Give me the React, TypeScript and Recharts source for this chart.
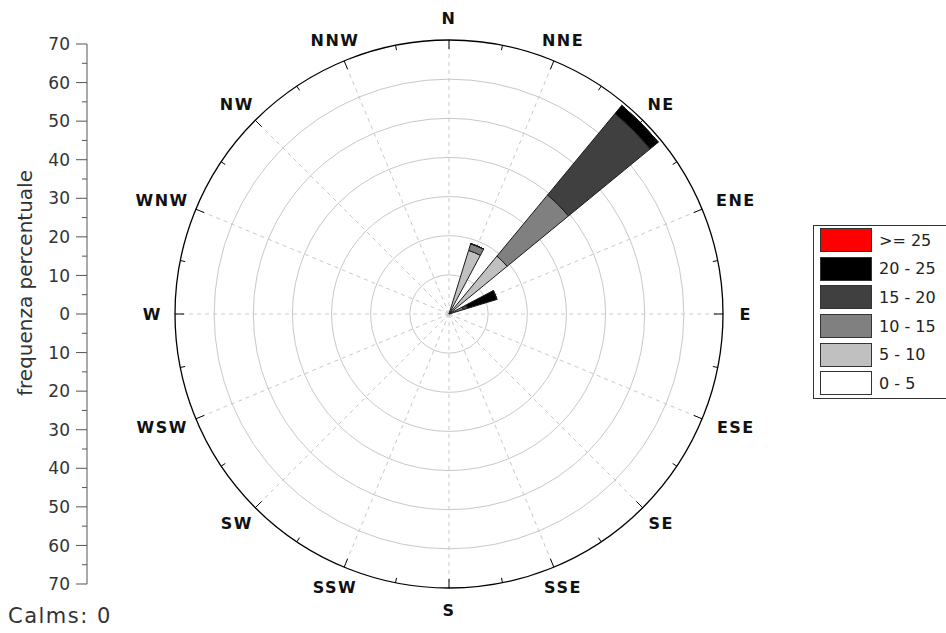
import React from 'react';
import {
  RadialBarChart,
  RadialBar,
  PolarGrid,
  PolarAngleAxis,
  PolarRadiusAxis,
  Legend,
  ComposedChart,
  XAxis,
  YAxis,
} from 'recharts';

const directions = ['N', 'NNE', 'NE', 'ENE', 'E', 'ESE', 'SE', 'SSE', 'S', 'SSW', 'SW', 'WSW', 'W', 'WNW', 'NW', 'NNW'];

// frequenza percentuale per classe di velocità, impilate per direzione
const speed0to5 = [0, 0.5, 1.0, 0.3, 0, 0, 0, 0, 0, 0, 0, 0, 0, 0, 0, 0];
const speed5to10 = [0, 16.5, 18.2, 1.5, 0, 0, 0, 0, 0, 0, 0, 0, 0, 0, 0, 0];
const speed10to15 = [0, 1.8, 20.3, 2.0, 0, 0, 0, 0, 0, 0, 0, 0, 0, 0, 0, 0];
const speed15to20 = [0, 0, 27.0, 1.2, 0, 0, 0, 0, 0, 0, 0, 0, 0, 0, 0, 0];
const speed20to25 = [0, 0, 2.7, 7.8, 0, 0, 0, 0, 0, 0, 0, 0, 0, 0, 0, 0];
const speedOver25 = [0, 0, 0, 0, 0, 0, 0, 0, 0, 0, 0, 0, 0, 0, 0, 0];

const binKeys = ['b0', 'b1', 'b2', 'b3', 'b4', 'b5'];
const binLabels = ['0 - 5', '5 - 10', '10 - 15', '15 - 20', '20 - 25', '>= 25'];
const binColors = ['#ffffff', '#c0c0c0', '#808080', '#404040', '#000000', '#ff0000'];

const ringTicks = [10, 20, 30, 40, 50, 60];
const freqTicks = [70, 65, 60, 55, 50, 45, 40, 35, 30, 25, 20, 15, 10, 5, 0, -5, -10, -15, -20, -25, -30, -35, -40, -45, -50, -55, -60, -65, -70];
const calms = 0;

const data = directions.map((dir, i) => ({
  dir,
  b0: speed0to5[i],
  b1: speed5to10[i],
  b2: speed10to15[i],
  b3: speed15to20[i],
  b4: speed20to25[i],
  b5: speedOver25[i],
}));

const freqData = freqTicks.map((freq) => ({ freq }));

const CX = 449;
const CY = 314;
const R = 274;
const LABEL_R = 289;
const STEP = 360 / directions.length;
// recharts centres each stacked bar half a band after its tick, so the
// chart starts half a band early and the labels are moved back onto the bars
const START = 90 - STEP / 2;
const spokeAngles = directions.map((_, i) => 90 - i * STEP);
const FONT = '"DejaVu Sans", sans-serif';

const polar = (r: number, deg: number) => {
  const a = (deg * Math.PI) / 180;
  return { x: CX + r * Math.cos(a), y: CY - r * Math.sin(a) };
};

const DirTick = (props: any) => {
  const { payload } = props;
  const deg = payload.coordinate + STEP / 2;
  const o = polar(R, deg);
  const i = polar(R - 9, deg);
  const mo = polar(R, deg - STEP / 2);
  const mi = polar(R - 5, deg - STEP / 2);
  // push the label out by half its box so it sits clear of the ring
  const p = polar(LABEL_R, deg);
  const a = (deg * Math.PI) / 180;
  const halfW = (String(payload.value).length * 15.5) / 2;
  const tx = p.x + halfW * Math.cos(a) * Math.abs(Math.cos(a));
  const ty = p.y - 7 * Math.sin(a);
  return (
    <g>
      <line x1={o.x} y1={o.y} x2={i.x} y2={i.y} stroke="#000" strokeWidth={1} />
      <line x1={mo.x} y1={mo.y} x2={mi.x} y2={mi.y} stroke="#000" strokeWidth={1} />
      <text
        x={tx}
        y={ty}
        dy="0.36em"
        textAnchor="middle"
        fontFamily={FONT}
        fontWeight={700}
        fontSize={16}
        letterSpacing={1.5}
        fill="#111"
      >
        {payload.value}
      </text>
    </g>
  );
};

const WindLegend = () => (
  <div
    style={{
      border: '1px solid #333',
      borderRight: 'none',
      padding: '0 0 0 6px',
      background: '#fff',
      fontFamily: FONT,
      fontSize: 16,
      color: '#222',
    }}
  >
    {binLabels
      .map((label, i) => ({ label, color: binColors[i] }))
      .reverse()
      .map((item) => (
        <div key={item.label} style={{ display: 'flex', alignItems: 'center', height: 28.6 }}>
          <div
            style={{
              width: 52,
              height: 24,
              background: item.color,
              border: '1px solid #333',
              boxSizing: 'border-box',
              marginRight: 7,
            }}
          />
          <span>{item.label}</span>
        </div>
      ))}
  </div>
);

const FreqTick = (props: any) => {
  const { x, y, payload } = props;
  const major = payload.value % 10 === 0;
  return (
    <g>
      <line x1={x - (major ? 11 : 5)} y1={y} x2={x} y2={y} stroke="#555" strokeWidth={1} />
      {major && (
        <text x={x - 17} y={y} dy="0.36em" textAnchor="end" fontFamily={FONT} fontSize={17} fill="#333">
          {Math.abs(payload.value)}
        </text>
      )}
    </g>
  );
};

const FreqTitle = (props: any) => {
  const { viewBox } = props;
  const tx = 25;
  const ty = viewBox.y + viewBox.height / 2 - 31;
  return (
    <text
      x={tx}
      y={ty}
      transform={`rotate(-90, ${tx}, ${ty})`}
      textAnchor="middle"
      dy="0.36em"
      fontFamily={FONT}
      fontSize={20}
      fill="#333"
    >
      frequenza percentuale
    </text>
  );
};

export default function App() {
  return (
    <div
      style={{
        position: 'absolute',
        left: 0,
        top: 0,
        width: 946,
        height: 633,
        overflow: 'hidden',
        background: '#fff',
        fontFamily: FONT,
      }}
    >
      <div style={{ position: 'absolute', left: 0, top: 0 }}>
        <RadialBarChart
          width={946}
          height={633}
          data={data}
          cx={CX}
          cy={CY}
          innerRadius={0}
          outerRadius={R}
          startAngle={START}
          endAngle={START - 360}
          layout="centric"
          barCategoryGap="25%"
          margin={{ top: 0, right: 0, bottom: 0, left: 0 }}
        >
          <PolarGrid gridType="circle" radialLines={false} stroke="#c8c8c8" strokeWidth={1} />
          <PolarGrid
            gridType="circle"
            polarRadius={[]}
            polarAngles={spokeAngles}
            stroke="#c8c8c8"
            strokeDasharray="4 4"
          />
          <PolarRadiusAxis type="number" domain={[0, 70]} ticks={ringTicks} axisLine={false} tick={false} />
          <PolarAngleAxis
            dataKey="dir"
            type="category"
            axisLineType="circle"
            axisLine={{ stroke: '#000', strokeWidth: 1.3 }}
            tickLine={false}
            tick={<DirTick />}
          />
          {binKeys.map((key, i) => (
            <RadialBar
              key={key}
              dataKey={key}
              name={binLabels[i]}
              stackId="rose"
              fill={binColors[i]}
              stroke="#1a1a1a"
              strokeWidth={1}
              isAnimationActive={false}
            />
          ))}
          <Legend
            layout="vertical"
            align="right"
            verticalAlign="middle"
            content={() => <WindLegend />}
            wrapperStyle={{ position: 'absolute', left: 813, top: 225, width: 150 }}
          />
        </RadialBarChart>
      </div>
      <div style={{ position: 'absolute', left: 0, top: 0 }}>
        <ComposedChart width={120} height={633} data={freqData} margin={{ top: 44, right: 0, bottom: 49, left: 0 }}>
          <XAxis hide dataKey="freq" />
          <YAxis
            type="number"
            dataKey="freq"
            domain={[-70, 70]}
            ticks={freqTicks}
            interval={0}
            width={87}
            tickSize={0}
            tickMargin={0}
            tickLine={false}
            axisLine={{ stroke: '#555', strokeWidth: 1 }}
            tick={<FreqTick />}
            label={<FreqTitle />}
          />
        </ComposedChart>
      </div>
      <div
        style={{
          position: 'absolute',
          left: 8,
          top: 604,
          fontFamily: FONT,
          fontSize: 21,
          letterSpacing: 1.5,
          color: '#333',
        }}
      >
        Calms: {calms}
      </div>
    </div>
  );
}
